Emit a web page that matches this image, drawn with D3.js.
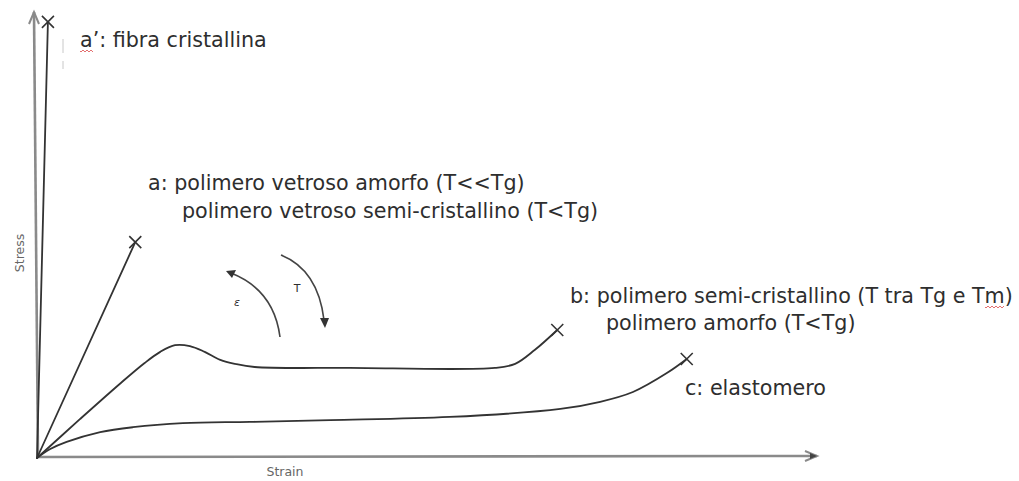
<!DOCTYPE html>
<html>
<head>
<meta charset="utf-8">
<script src="https://cdn.jsdelivr.net/npm/d3@7"></script>
<style>
  html, body { margin: 0; padding: 0; background: #fff; }
  svg { display: block; }
  .lbl { font-family: "DejaVu Sans", Verdana, sans-serif; fill: #2e2e2e; }
  .ax { font-family: "DejaVu Sans", Verdana, sans-serif; fill: #666; }
</style>
</head>
<body>
<svg id="chart" width="1019" height="481"></svg>
<script>
// Schematic stress–strain curves (arbitrary units, 0–100 on both axes)

// a': crystalline fibre — nearly vertical, brittle
const strainA1 = [0, 1.4];
const stressA1 = [0, 97.8];

// a: glassy polymer — linear up to fracture
const strainA = [0, 12.6];
const stressA = [0, 48.4];

// b: yield peak, necking plateau, strain hardening
const strainB = [0, 5.5, 10.6, 13.8, 15.8, 17.7, 19.6, 21.5, 23.5, 25.4, 27.9, 40.1, 58.7, 61.3, 63.8, 66.7];
const stressB = [0, 8.7, 16.6, 21.3, 23.8, 25.3, 25.1, 23.8, 22.0, 21.1, 20.4, 20.2, 20.2, 21.1, 24.2, 28.7];

// c: elastomer — low modulus, long extension
const strainC = [0, 1.7, 3.8, 8.1, 12.3, 18.7, 27.3, 37.6, 52.9, 67.1, 72.2, 76.4, 80.8, 83.3];
const stressC = [0, 2.0, 3.6, 5.8, 6.9, 7.8, 8.1, 8.5, 9.2, 11.0, 12.6, 14.8, 19.1, 22.2];

const axisLabels = { x: "Strain", y: "Stress" };

const svg = d3.select("#chart");

const x = d3.scaleLinear().domain([0, 100]).range([37, 817]);
const y = d3.scaleLinear().domain([0, 100]).range([458, 12]);

const zip = (xs, ys) => xs.map((v, i) => [v, ys[i]]);

const curves = [
  { id: "a1", pts: zip(strainA1, stressA1), smooth: false },
  { id: "a",  pts: zip(strainA, stressA),   smooth: false },
  { id: "b",  pts: zip(strainB, stressB),   smooth: true },
  { id: "c",  pts: zip(strainC, stressC),   smooth: true }
];

// --- axes with arrow heads ---
const axisColor = "#8a8a8a";
const axes = svg.append("g");
axes.append("line")
  .attr("x1", x(0)).attr("y1", y(0) - 1)
  .attr("x2", x(100)).attr("y2", y(0) - 2)
  .attr("stroke", axisColor).attr("stroke-width", 2.6);
axes.append("line")
  .attr("x1", x(0) + 1).attr("y1", y(0))
  .attr("x2", x(0) - 3).attr("y2", y(100))
  .attr("stroke", axisColor).attr("stroke-width", 2.6);

// x arrow head
const xt = [x(100), y(0) - 2];
axes.append("path")
  .attr("d", `M${xt[0] - 12},${xt[1] - 5} L${xt[0]},${xt[1]} L${xt[0] - 12},${xt[1] + 5}`)
  .attr("fill", "none").attr("stroke", axisColor).attr("stroke-width", 2);
axes.append("path")
  .attr("d", `M${xt[0] - 7},${xt[1] - 3} L${xt[0]},${xt[1]} L${xt[0] - 7},${xt[1] + 3} Z`)
  .attr("fill", "#444");
// y arrow head
const yt = [x(0) - 3, y(100)];
axes.append("path")
  .attr("d", `M${yt[0] - 5},${yt[1] + 12} L${yt[0]},${yt[1]} L${yt[0] + 5},${yt[1] + 12}`)
  .attr("fill", "none").attr("stroke", axisColor).attr("stroke-width", 2);

axes.append("text").attr("class", "ax")
  .attr("x", 285).attr("y", 476)
  .attr("text-anchor", "middle").attr("font-size", 12.5)
  .text(axisLabels.x);
axes.append("text").attr("class", "ax")
  .attr("transform", "translate(24,253) rotate(-90)")
  .attr("text-anchor", "middle").attr("font-size", 12.5)
  .text(axisLabels.y);

// --- curves ---
const smoothLine = d3.line().x(d => x(d[0])).y(d => y(d[1])).curve(d3.curveCatmullRom.alpha(0.5));
const straightLine = d3.line().x(d => x(d[0])).y(d => y(d[1]));

svg.append("g").selectAll("path")
  .data(curves)
  .join("path")
  .attr("d", d => (d.smooth ? smoothLine : straightLine)(d.pts))
  .attr("fill", "none")
  .attr("stroke", "#333")
  .attr("stroke-width", 1.8)
  .attr("stroke-linecap", "round");

// fracture marks at the end of each curve
const ends = curves.map(d => d.pts[d.pts.length - 1]);
const s = 6;
svg.append("g").selectAll("path")
  .data(ends)
  .join("path")
  .attr("d", d => {
    const cx = x(d[0]), cy = y(d[1]);
    return `M${cx - s},${cy - s} L${cx + s},${cy + s} M${cx + s},${cy - s} L${cx - s},${cy + s}`;
  })
  .attr("stroke", "#333").attr("stroke-width", 1.6).attr("fill", "none");

// --- trend arrows: strain rate (ε) and temperature (T) ---
const arr = svg.append("g");
arr.append("path").attr("d", "M280,337 Q274,290 231,273")
  .attr("fill", "none").attr("stroke", "#444").attr("stroke-width", 1.6);
arr.append("path").attr("d", "M226,271 L236,270 L232,278 Z").attr("fill", "#333");
arr.append("path").attr("d", "M281,255 Q318,270 324,320")
  .attr("fill", "none").attr("stroke", "#444").attr("stroke-width", 1.6);
arr.append("path").attr("d", "M325,328 L320,318 L329,318 Z").attr("fill", "#333");
arr.append("text").attr("class", "lbl").attr("x", 237).attr("y", 306)
  .attr("font-size", 11).attr("font-style", "italic").attr("text-anchor", "middle").attr("fill", "#666").text("ε");
arr.append("text").attr("class", "lbl").attr("x", 297).attr("y", 292)
  .attr("font-size", 11).attr("text-anchor", "middle").attr("fill", "#666").text("T");

// --- curve labels ---
const labels = [
  { x: 80,  y: 47,  t: "a’: fibra cristallina" },
  { x: 148, y: 190, t: "a: polimero vetroso amorfo (T<<Tg)" },
  { x: 182, y: 218, t: "polimero vetroso semi-cristallino (T<Tg)" },
  { x: 570, y: 303, t: "b: polimero semi-cristallino (T tra Tg e Tm)" },
  { x: 606, y: 330, t: "polimero amorfo (T<Tg)" },
  { x: 685, y: 395, t: "c: elastomero" }
];
const labelSel = svg.append("g").selectAll("text")
  .data(labels)
  .join("text")
  .attr("class", "lbl")
  .attr("x", d => d.x).attr("y", d => d.y)
  .attr("font-size", 100)
  .text(d => d.t);

// one common size, set so the longest label spans its line
const refNode = labelSel.nodes()[3];
const fs = 100 * 443 / refNode.getComputedTextLength();
labelSel.attr("font-size", fs);

// spell-check squiggles under "a’" and "Tm"
const squiggle = (x0, y0, w) => {
  let p = `M${x0},${y0}`;
  for (let i = 0; i < w; i += 2) p += ` L${x0 + i + 1},${y0 + ((i / 2) % 2 ? -1 : 1)}`;
  return p;
};
svg.append("path").attr("d", squiggle(80, 51, 14)).attr("stroke", "#e06060").attr("stroke-width", 0.9).attr("fill", "none");
svg.append("path").attr("d", squiggle(985, 307, 20)).attr("stroke", "#e06060").attr("stroke-width", 0.9).attr("fill", "none");

// faint tick marks beside the a' label
svg.append("path").attr("d", "M63,39 L63,53 M63,61 L63,69")
  .attr("stroke", "#c8c8c8").attr("stroke-width", 1).attr("fill", "none");
</script>
</body>
</html>
